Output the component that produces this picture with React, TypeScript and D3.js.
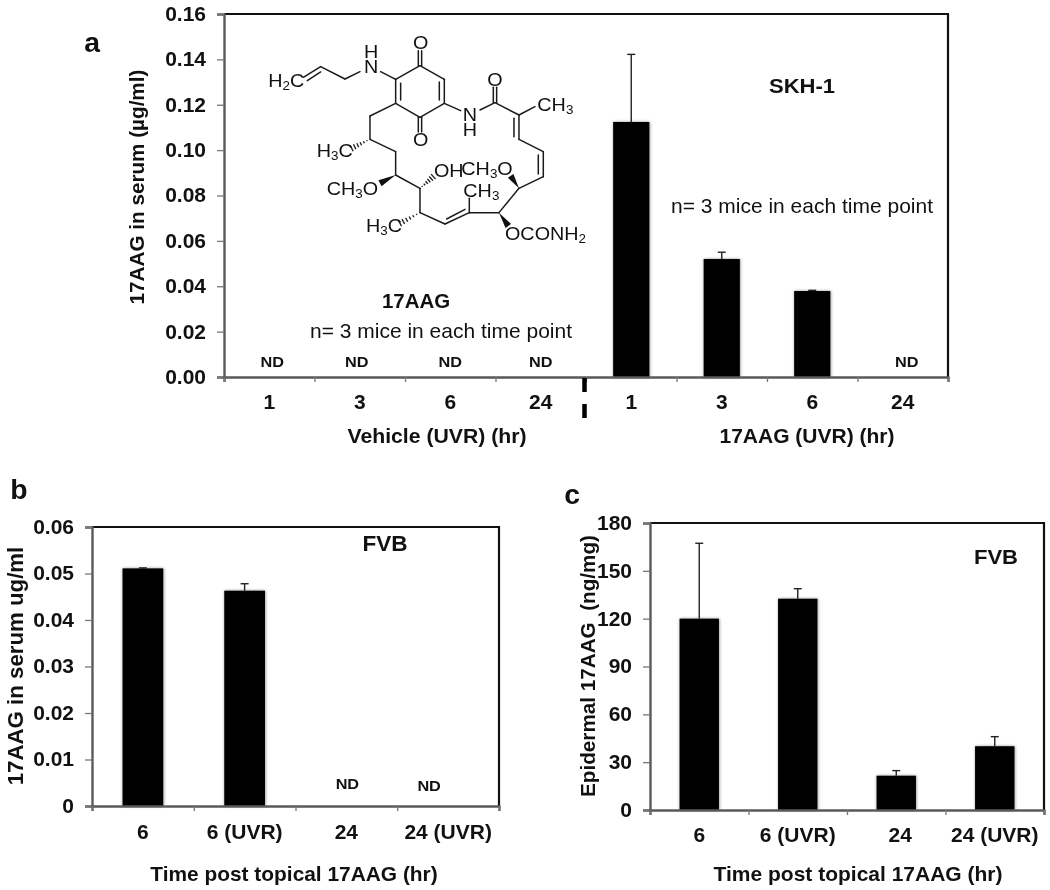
import React, { useEffect, useRef } from 'react';
import * as d3 from 'd3';

// panel a - SKH-1
const skhLabels = ['1', '3', '6', '24', '1', '3', '6', '24'];
const skhValues = [null, null, null, null, 0.1124, 0.052, 0.0379, null];
const skhErrors = [null, null, null, null, 0.0298, 0.003, 0.0003, null];
const skhTicks = [0, 0.02, 0.04, 0.06, 0.08, 0.1, 0.12, 0.14, 0.16];

// panel b - FVB serum
const fvbLabels = ['6', '6 (UVR)', '24', '24 (UVR)'];
const serumValues = [0.0511, 0.0463, null, null];
const serumErrors = [0.0001, 0.0015, null, null];
const serumTicks = [0, 0.01, 0.02, 0.03, 0.04, 0.05, 0.06];

// panel c - FVB epidermis
const epidermalValues = [120, 132.5, 21.5, 40];
const epidermalErrors = [47.3, 6.3, 3.2, 6];
const epidermalTicks = [0, 30, 60, 90, 120, 150, 180];

// molecule inset, drawn at 3x and scaled down
const bonds = [
  [160, 172, 212, 140], [172, 182, 212, 156], [212, 140, 285, 177], [285, 177, 330, 155],
  [392, 155, 437, 178], [437, 178, 510, 137], [510, 137, 583, 178], [583, 178, 583, 250],
  [583, 250, 510, 292], [510, 292, 437, 250], [437, 250, 437, 178], [452, 190, 452, 240],
  [568, 186, 568, 240], [505, 137, 505, 92], [515, 137, 515, 92], [505, 292, 505, 336],
  [515, 292, 515, 336], [583, 250, 632, 272], [690, 270, 735, 248], [730, 248, 730, 202],
  [740, 248, 740, 202], [735, 248, 807, 285], [807, 285, 855, 260], [807, 285, 807, 358],
  [792, 295, 792, 350], [807, 358, 880, 395], [880, 395, 880, 470], [865, 405, 865, 462],
  [880, 470, 807, 505], [807, 505, 747, 578], [747, 578, 658, 578], [658, 578, 658, 535],
  [658, 578, 585, 612], [590, 597, 645, 568], [585, 612, 510, 578], [510, 578, 510, 505],
  [510, 505, 437, 465], [437, 465, 437, 395], [437, 395, 360, 358], [360, 358, 360, 288],
  [360, 288, 437, 250],
];
const wedges = [
  [807, 505, 782, 468], [747, 578, 775, 618], [437, 465, 390, 490],
];
const hashes = [
  [510, 578, 450, 610], [510, 505, 550, 470], [360, 358, 305, 385],
];
const atoms: [string, number, number][] = [
  ['H|2|C', 55, 200], ['N', 342, 160], ['H', 342, 113], ['O', 489, 87], ['O', 489, 379],
  ['N', 638, 302], ['H', 638, 348], ['O', 712, 197], ['CH|3', 862, 272], ['CH|3|O', 634, 464],
  ['CH|3', 640, 530], ['OH', 552, 472], ['OCONH|2', 765, 660], ['H|3|C', 348, 635],
  ['CH|3|O', 230, 524], ['H|3|C', 200, 412],
];

const sans = '"Liberation Sans", Arial, sans-serif';
const stretch = 1.05; // the figure is slightly wider than tall

type PanelOpts = {
  left: number; right: number; top: number; bottom: number;
  labels: string[]; values: (number | null)[]; errors: (number | null)[];
  ticks: number[]; yMax: number; fmt: string; capW: number;
  labelY: number; labelShift?: number[];
  nd: { i: number; dx: number; y: number }[];
};

function label(svg: any, t: string, x: number, y: number, size: number, weight = 'bold', rotate = false) {
  return svg.append('text')
    .attr('transform', `translate(${x},${y}) ${rotate ? 'rotate(-90)' : ''} scale(${stretch},1)`)
    .attr('text-anchor', 'middle').attr('font-family', sans).attr('font-weight', weight)
    .attr('font-size', size).attr('fill', '#111').text(t);
}

function drawPanel(svg: any, o: PanelOpts) {
  const n = o.labels.length;
  const y = d3.scaleLinear().domain([0, o.yMax]).range([o.bottom, o.top]);
  const band = d3.scaleBand<number>().domain(d3.range(n)).range([o.left, o.right]).paddingInner(0.6).paddingOuter(0.3);
  const edge = d3.scaleLinear().domain([0, n]).range([o.left, o.right]);
  const g = svg.append('g');

  g.append('g').attr('filter', 'url(#soft)')
    .selectAll('rect')
    .data(o.values.map((v, i) => ({ v, i })).filter((d) => d.v !== null))
    .enter().append('rect')
    .attr('x', (d: any) => band(d.i))
    .attr('width', band.bandwidth())
    .attr('y', (d: any) => y(d.v))
    .attr('height', (d: any) => o.bottom - y(d.v))
    .attr('fill', '#000');

  // error bars, upper half only
  o.values.forEach((v, i) => {
    const e = o.errors[i];
    if (v === null || e === null) return;
    const cx = band(i)! + band.bandwidth() / 2;
    g.append('line').attr('x1', cx).attr('x2', cx).attr('y1', y(v)).attr('y2', y(v + e))
      .attr('stroke', '#222').attr('stroke-width', 1.4);
    g.append('line').attr('x1', cx - o.capW / 2).attr('x2', cx + o.capW / 2).attr('y1', y(v + e)).attr('y2', y(v + e))
      .attr('stroke', '#222').attr('stroke-width', 1.4);
  });

  // top and right edge are black, the axes are grey
  g.append('path')
    .attr('d', `M${o.left},${o.top}H${o.right}V${o.bottom}`)
    .attr('fill', 'none').attr('stroke', '#111').attr('stroke-width', 2.2);

  const yAxis = g.append('g').attr('transform', `translate(${o.left},0)`)
    .call(d3.axisLeft(y).tickValues(o.ticks).tickSize(7).tickPadding(10).tickFormat(d3.format(o.fmt) as any));
  const xAxis = g.append('g').attr('transform', `translate(0,${o.bottom})`)
    .call(d3.axisBottom(edge).ticks(n).tickSize(5).tickFormat(() => ''));
  [yAxis, xAxis].forEach((a) => {
    a.select('.domain').attr('stroke', '#5a5a5a').attr('stroke-width', 2.4);
    a.selectAll('.tick line').attr('stroke', '#777').attr('stroke-width', 1.3);
  });
  yAxis.selectAll('text')
    .attr('font-family', sans).attr('font-weight', 'bold').attr('font-size', 20).attr('fill', '#111')
    .attr('x', -18 / stretch).attr('transform', `scale(${stretch},1)`);

  o.labels.forEach((t, i) => {
    label(g, t, band(i)! + band.bandwidth() / 2 + (o.labelShift ? o.labelShift[i] : 0), o.labelY, 20);
  });
  o.nd.forEach((d) => {
    label(g, 'ND', band(d.i)! + band.bandwidth() / 2 + d.dx, d.y, 15.5);
  });
}

function drawMolecule(svg: any) {
  const g = svg.append('g').attr('transform', 'translate(250,20) scale(0.3333)');
  g.selectAll('line.bond').data(bonds).enter().append('line').attr('class', 'bond')
    .attr('x1', (d: number[]) => d[0]).attr('y1', (d: number[]) => d[1])
    .attr('x2', (d: number[]) => d[2]).attr('y2', (d: number[]) => d[3])
    .attr('stroke', '#1a1a1a').attr('stroke-width', 4.5).attr('stroke-linecap', 'round');
  wedges.forEach((w) => {
    const dx = w[2] - w[0], dy = w[3] - w[1], l = Math.hypot(dx, dy);
    const nx = (-dy / l) * 10, ny = (dx / l) * 10;
    g.append('path').attr('fill', '#111')
      .attr('d', `M${w[0]},${w[1]}L${w[2] + nx},${w[3] + ny}L${w[2] - nx},${w[3] - ny}Z`);
  });
  hashes.forEach((w) => {
    const dx = w[2] - w[0], dy = w[3] - w[1], l = Math.hypot(dx, dy);
    d3.range(1, 7).forEach((k) => {
      const t = k / 6, nx = (-dy / l) * 10 * t, ny = (dx / l) * 10 * t;
      const px = w[0] + dx * t, py = w[1] + dy * t;
      g.append('line').attr('x1', px + nx).attr('y1', py + ny).attr('x2', px - nx).attr('y2', py - ny)
        .attr('stroke', '#1a1a1a').attr('stroke-width', 4);
    });
  });
  atoms.forEach(([t, x, y]) => {
    const el = g.append('text').attr('transform', `translate(${x},${y}) scale(1.12,1)`)
      .attr('font-family', sans).attr('font-size', 53).attr('fill', '#111');
    let prevSub = false;
    t.split('|').forEach((part) => {
      const sub = /^\d$/.test(part);
      el.append('tspan').attr('font-size', sub ? 36 : 53).attr('dy', sub ? 9 : prevSub ? -9 : 0).text(part);
      prevSub = sub;
    });
  });
}

export default function App() {
  const ref = useRef<SVGSVGElement>(null);
  useEffect(() => {
    const svg = d3.select(ref.current);
    svg.selectAll('*').remove();
    svg.append('rect').attr('width', 1050).attr('height', 890).attr('fill', '#fff');
    const f = svg.append('defs').append('filter').attr('id', 'soft')
      .attr('x', '-20%').attr('y', '-5%').attr('width', '140%').attr('height', '110%');
    f.append('feDropShadow').attr('dx', 0.5).attr('dy', 0).attr('stdDeviation', 1.5)
      .attr('flood-color', '#000').attr('flood-opacity', 0.45);

    drawPanel(svg, {
      left: 224, right: 948, top: 14, bottom: 377,
      labels: skhLabels, values: skhValues, errors: skhErrors,
      ticks: skhTicks, yMax: 0.16, fmt: '.2f', capW: 8, labelY: 409,
      nd: [
        { i: 0, dx: 3, y: 367 }, { i: 1, dx: -3, y: 367 }, { i: 2, dx: 0, y: 367 },
        { i: 3, dx: 0, y: 367 }, { i: 7, dx: 4, y: 367 },
      ],
    });
    drawPanel(svg, {
      left: 92, right: 499, top: 527, bottom: 806,
      labels: fvbLabels, values: serumValues, errors: serumErrors,
      ticks: serumTicks, yMax: 0.06, fmt: '~g', capW: 8, labelY: 839,
      nd: [{ i: 2, dx: 1, y: 789 }, { i: 3, dx: -19, y: 791 }],
    });
    drawPanel(svg, {
      left: 650, right: 1044, top: 523, bottom: 810,
      labels: fvbLabels, values: epidermalValues, errors: epidermalErrors,
      ticks: epidermalTicks, yMax: 180, fmt: 'd', capW: 8, labelY: 842,
      labelShift: [0, 0, 4, 0], nd: [],
    });

    // dashed break between the two groups of panel a
    svg.append('line').attr('x1', 584.5).attr('x2', 584.5).attr('y1', 378).attr('y2', 420)
      .attr('stroke', '#000').attr('stroke-width', 4.5).attr('stroke-dasharray', '14 12');

    label(svg, 'a', 92, 52, 27);
    label(svg, 'b', 19, 499, 27);
    label(svg, 'c', 572, 504, 27);

    label(svg, '17AAG in serum (µg/ml)', 144, 187, 19.7, 'bold', true);
    label(svg, '17AAG in serum ug/ml', 23, 666, 21.2, 'bold', true);
    label(svg, 'Epidermal 17AAG\u00a0\u00a0(ng/mg)', 595, 666, 19.7, 'bold', true);

    label(svg, 'Vehicle (UVR) (hr)', 437, 443, 20.2);
    label(svg, '17AAG (UVR) (hr)', 807, 443, 20);
    label(svg, 'Time post topical 17AAG (hr)', 294, 881, 19.9);
    label(svg, 'Time post topical 17AAG (hr)', 858, 881, 20);

    label(svg, 'SKH-1', 802, 93, 21);
    label(svg, 'FVB', 385, 551, 21.5);
    label(svg, 'FVB', 996, 564, 21);
    label(svg, 'n= 3 mice in each time point', 802, 213, 20, 'normal');
    label(svg, '17AAG', 416, 308, 19.5);
    label(svg, 'n= 3 mice in each time point', 441, 338, 20, 'normal');

    drawMolecule(svg);
  }, []);
  return <svg ref={ref} width={1050} height={890} style={{ position: 'absolute', left: 0, top: 0, filter: 'blur(0.35px)' }} />;
}
